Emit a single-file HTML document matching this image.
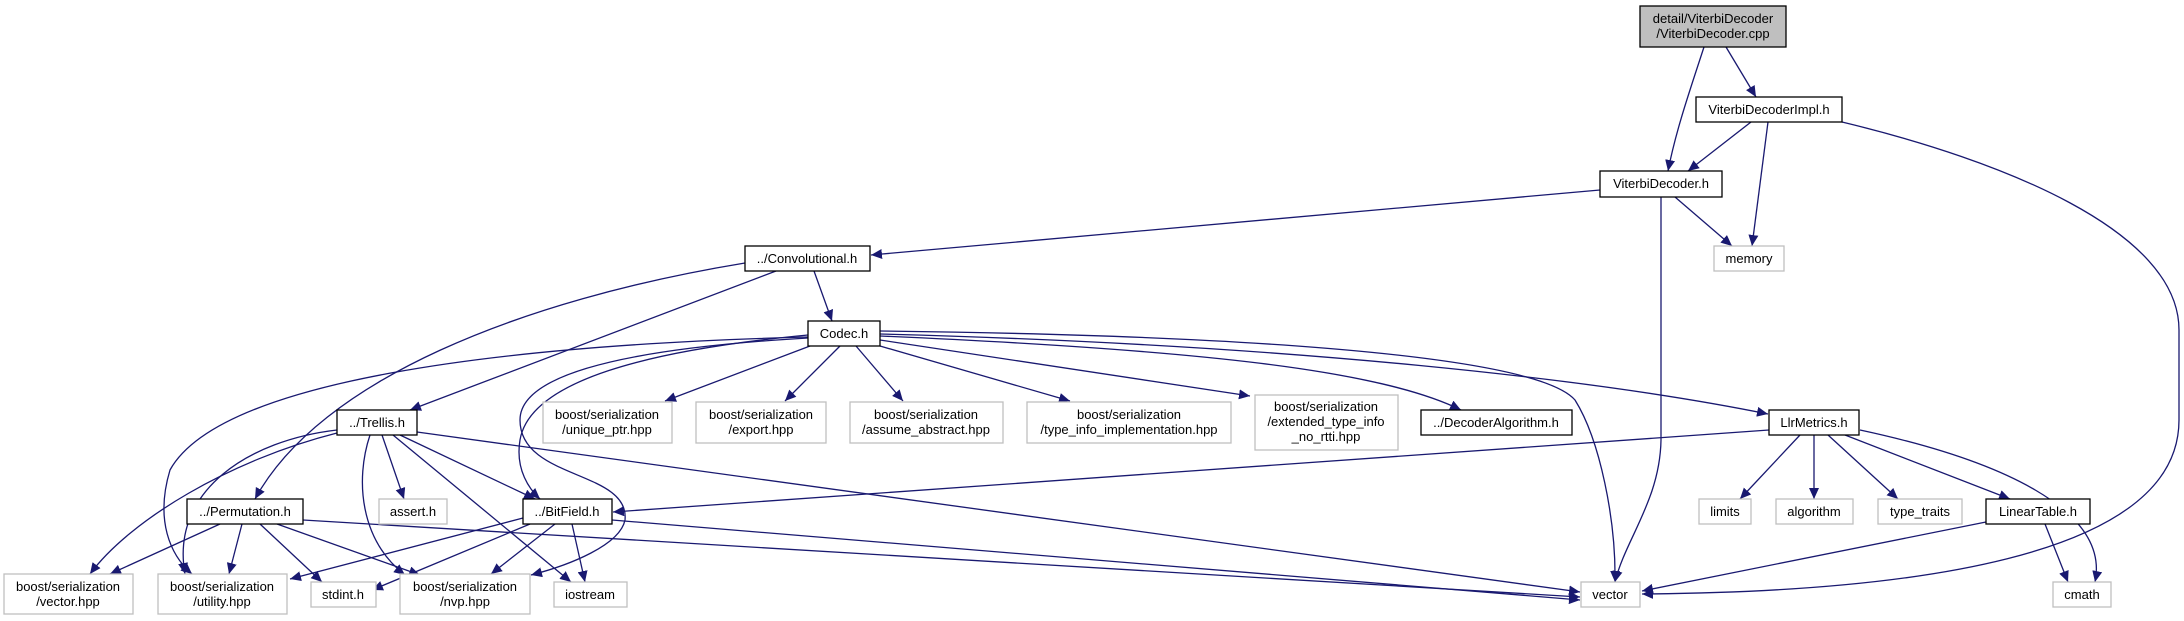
<!DOCTYPE html>
<html><head><meta charset="utf-8"><style>
html,body{margin:0;padding:0;background:#fff;}
svg{display:block;}
text{font-family:"Liberation Sans",sans-serif;font-size:13px;fill:#000;text-anchor:middle;}
.n{fill:#fff;stroke:#000;stroke-width:1.3;}
.g{fill:#fff;stroke:#bfbfbf;stroke-width:1.3;}
.e{fill:none;stroke:#191970;stroke-width:1.3;}
</style></head><body>
<svg width="2184" height="621" viewBox="0 0 2184 621" xmlns="http://www.w3.org/2000/svg">
<defs><marker id="a" markerUnits="userSpaceOnUse" markerWidth="12" markerHeight="10" refX="11" refY="5" orient="auto"><path d="M0,0 L11,5 L0,10 z" fill="#191970"/></marker></defs>
<g class="e" marker-end="url(#a)">
<path d="M1704,47 C1690,90 1676,130 1668,171"/>
<path d="M1726,47 L1756,97"/>
<path d="M1751,122 L1688,171"/>
<path d="M1768,122 L1752,246"/>
<path d="M1842,122 C2000,160 2179,230 2179,330 L2179,420 C2179,560 1900,592 1642,594"/>
<path d="M1675,197 L1732,246"/>
<path d="M1661,197 L1661,440 C1660,500 1625,540 1615,582"/>
<path d="M1600,190 L871,255"/>
<path d="M814,271 L832,321"/>
<path d="M776,271 L410,410"/>
<path d="M745,263 C520,300 320,380 255,499"/>
<path d="M810,346 L665,401"/>
<path d="M840,346 L785,401"/>
<path d="M856,346 L903,401"/>
<path d="M880,346 L1070,401"/>
<path d="M880,340 L1250,396"/>
<path d="M880,336 C1200,350 1380,370 1461,410"/>
<path d="M880,334 C1300,345 1600,380 1768,414"/>
<path d="M880,331 C1300,336 1540,360 1575,400 C1600,440 1616,520 1615,582"/>
<path d="M808,335 C650,350 530,380 520,440 C515,470 530,490 540,499"/>
<path d="M808,338 C600,350 520,380 520,420 C520,480 630,470 625,520 C620,545 570,565 531,575"/>
<path d="M808,337 C500,345 220,380 170,470 C155,520 170,555 192,574"/>
<path d="M337,430 C250,440 170,490 185,574"/>
<path d="M337,433 C230,460 130,520 90,574"/>
<path d="M417,432 L1580,592"/>
<path d="M382,435 L404,499"/>
<path d="M400,435 L535,499"/>
<path d="M393,435 L571,582"/>
<path d="M370,435 C355,480 360,540 405,575"/>
<path d="M220,524 L110,574"/>
<path d="M242,524 L229,574"/>
<path d="M260,524 L322,582"/>
<path d="M277,524 L420,575"/>
<path d="M303,520 L1580,597"/>
<path d="M523,518 L290,579"/>
<path d="M530,524 L372,590"/>
<path d="M555,524 L491,574"/>
<path d="M572,524 L585,582"/>
<path d="M612,520 L1580,600"/>
<path d="M1769,430 L613,512"/>
<path d="M1800,435 L1740,499"/>
<path d="M1814,435 L1814,499"/>
<path d="M1828,435 L1898,499"/>
<path d="M1845,435 L2010,499"/>
<path d="M1860,430 C2000,460 2110,510 2095,582"/>
<path d="M1986,522 L1642,591"/>
<path d="M2045,524 L2068,582"/>
</g>
<rect x="1640" y="6" width="146" height="41" fill="#bfbfbf" stroke="#000" stroke-width="1.3"/>
<text x="1713" y="23">detail/ViterbiDecoder</text><text x="1713" y="38">/ViterbiDecoder.cpp</text>
<rect class="n" x="1696" y="97" width="146" height="25"/><text x="1769" y="114">ViterbiDecoderImpl.h</text>
<rect class="n" x="1600" y="171" width="122" height="26"/><text x="1661" y="188">ViterbiDecoder.h</text>
<rect class="g" x="1714" y="246" width="70" height="25"/><text x="1749" y="263">memory</text>
<rect class="n" x="745" y="246" width="125" height="25"/><text x="807" y="263">../Convolutional.h</text>
<rect class="n" x="808" y="321" width="72" height="25"/><text x="844" y="338">Codec.h</text>
<rect class="n" x="337" y="410" width="80" height="25"/><text x="377" y="427">../Trellis.h</text>
<rect class="g" x="543" y="402" width="129" height="41"/><text x="607" y="419">boost/serialization</text><text x="607" y="434">/unique_ptr.hpp</text>
<rect class="g" x="696" y="402" width="130" height="41"/><text x="761" y="419">boost/serialization</text><text x="761" y="434">/export.hpp</text>
<rect class="g" x="850" y="402" width="153" height="41"/><text x="926" y="419">boost/serialization</text><text x="926" y="434">/assume_abstract.hpp</text>
<rect class="g" x="1027" y="402" width="204" height="41"/><text x="1129" y="419">boost/serialization</text><text x="1129" y="434">/type_info_implementation.hpp</text>
<rect class="g" x="1255" y="395" width="143" height="55"/><text x="1326" y="411">boost/serialization</text><text x="1326" y="426">/extended_type_info</text><text x="1326" y="441">_no_rtti.hpp</text>
<rect class="n" x="1421" y="410" width="151" height="25"/><text x="1496" y="427">../DecoderAlgorithm.h</text>
<rect class="n" x="1769" y="410" width="90" height="25"/><text x="1814" y="427">LlrMetrics.h</text>
<rect class="n" x="187" y="499" width="116" height="25"/><text x="245" y="516">../Permutation.h</text>
<rect class="g" x="379" y="499" width="68" height="25"/><text x="413" y="516">assert.h</text>
<rect class="n" x="523" y="499" width="89" height="25"/><text x="567" y="516">../BitField.h</text>
<rect class="g" x="1699" y="499" width="52" height="25"/><text x="1725" y="516">limits</text>
<rect class="g" x="1776" y="499" width="77" height="25"/><text x="1814" y="516">algorithm</text>
<rect class="g" x="1878" y="499" width="84" height="25"/><text x="1920" y="516">type_traits</text>
<rect class="n" x="1986" y="499" width="104" height="25"/><text x="2038" y="516">LinearTable.h</text>
<rect class="g" x="4" y="574" width="129" height="40"/><text x="68" y="591">boost/serialization</text><text x="68" y="606">/vector.hpp</text>
<rect class="g" x="158" y="574" width="129" height="40"/><text x="222" y="591">boost/serialization</text><text x="222" y="606">/utility.hpp</text>
<rect class="g" x="311" y="582" width="65" height="25"/><text x="343" y="599">stdint.h</text>
<rect class="g" x="400" y="574" width="130" height="40"/><text x="465" y="591">boost/serialization</text><text x="465" y="606">/nvp.hpp</text>
<rect class="g" x="554" y="582" width="73" height="25"/><text x="590" y="599">iostream</text>
<rect class="g" x="1581" y="582" width="59" height="25"/><text x="1610" y="599">vector</text>
<rect class="g" x="2053" y="582" width="58" height="25"/><text x="2082" y="599">cmath</text>
</svg>
</body></html>
